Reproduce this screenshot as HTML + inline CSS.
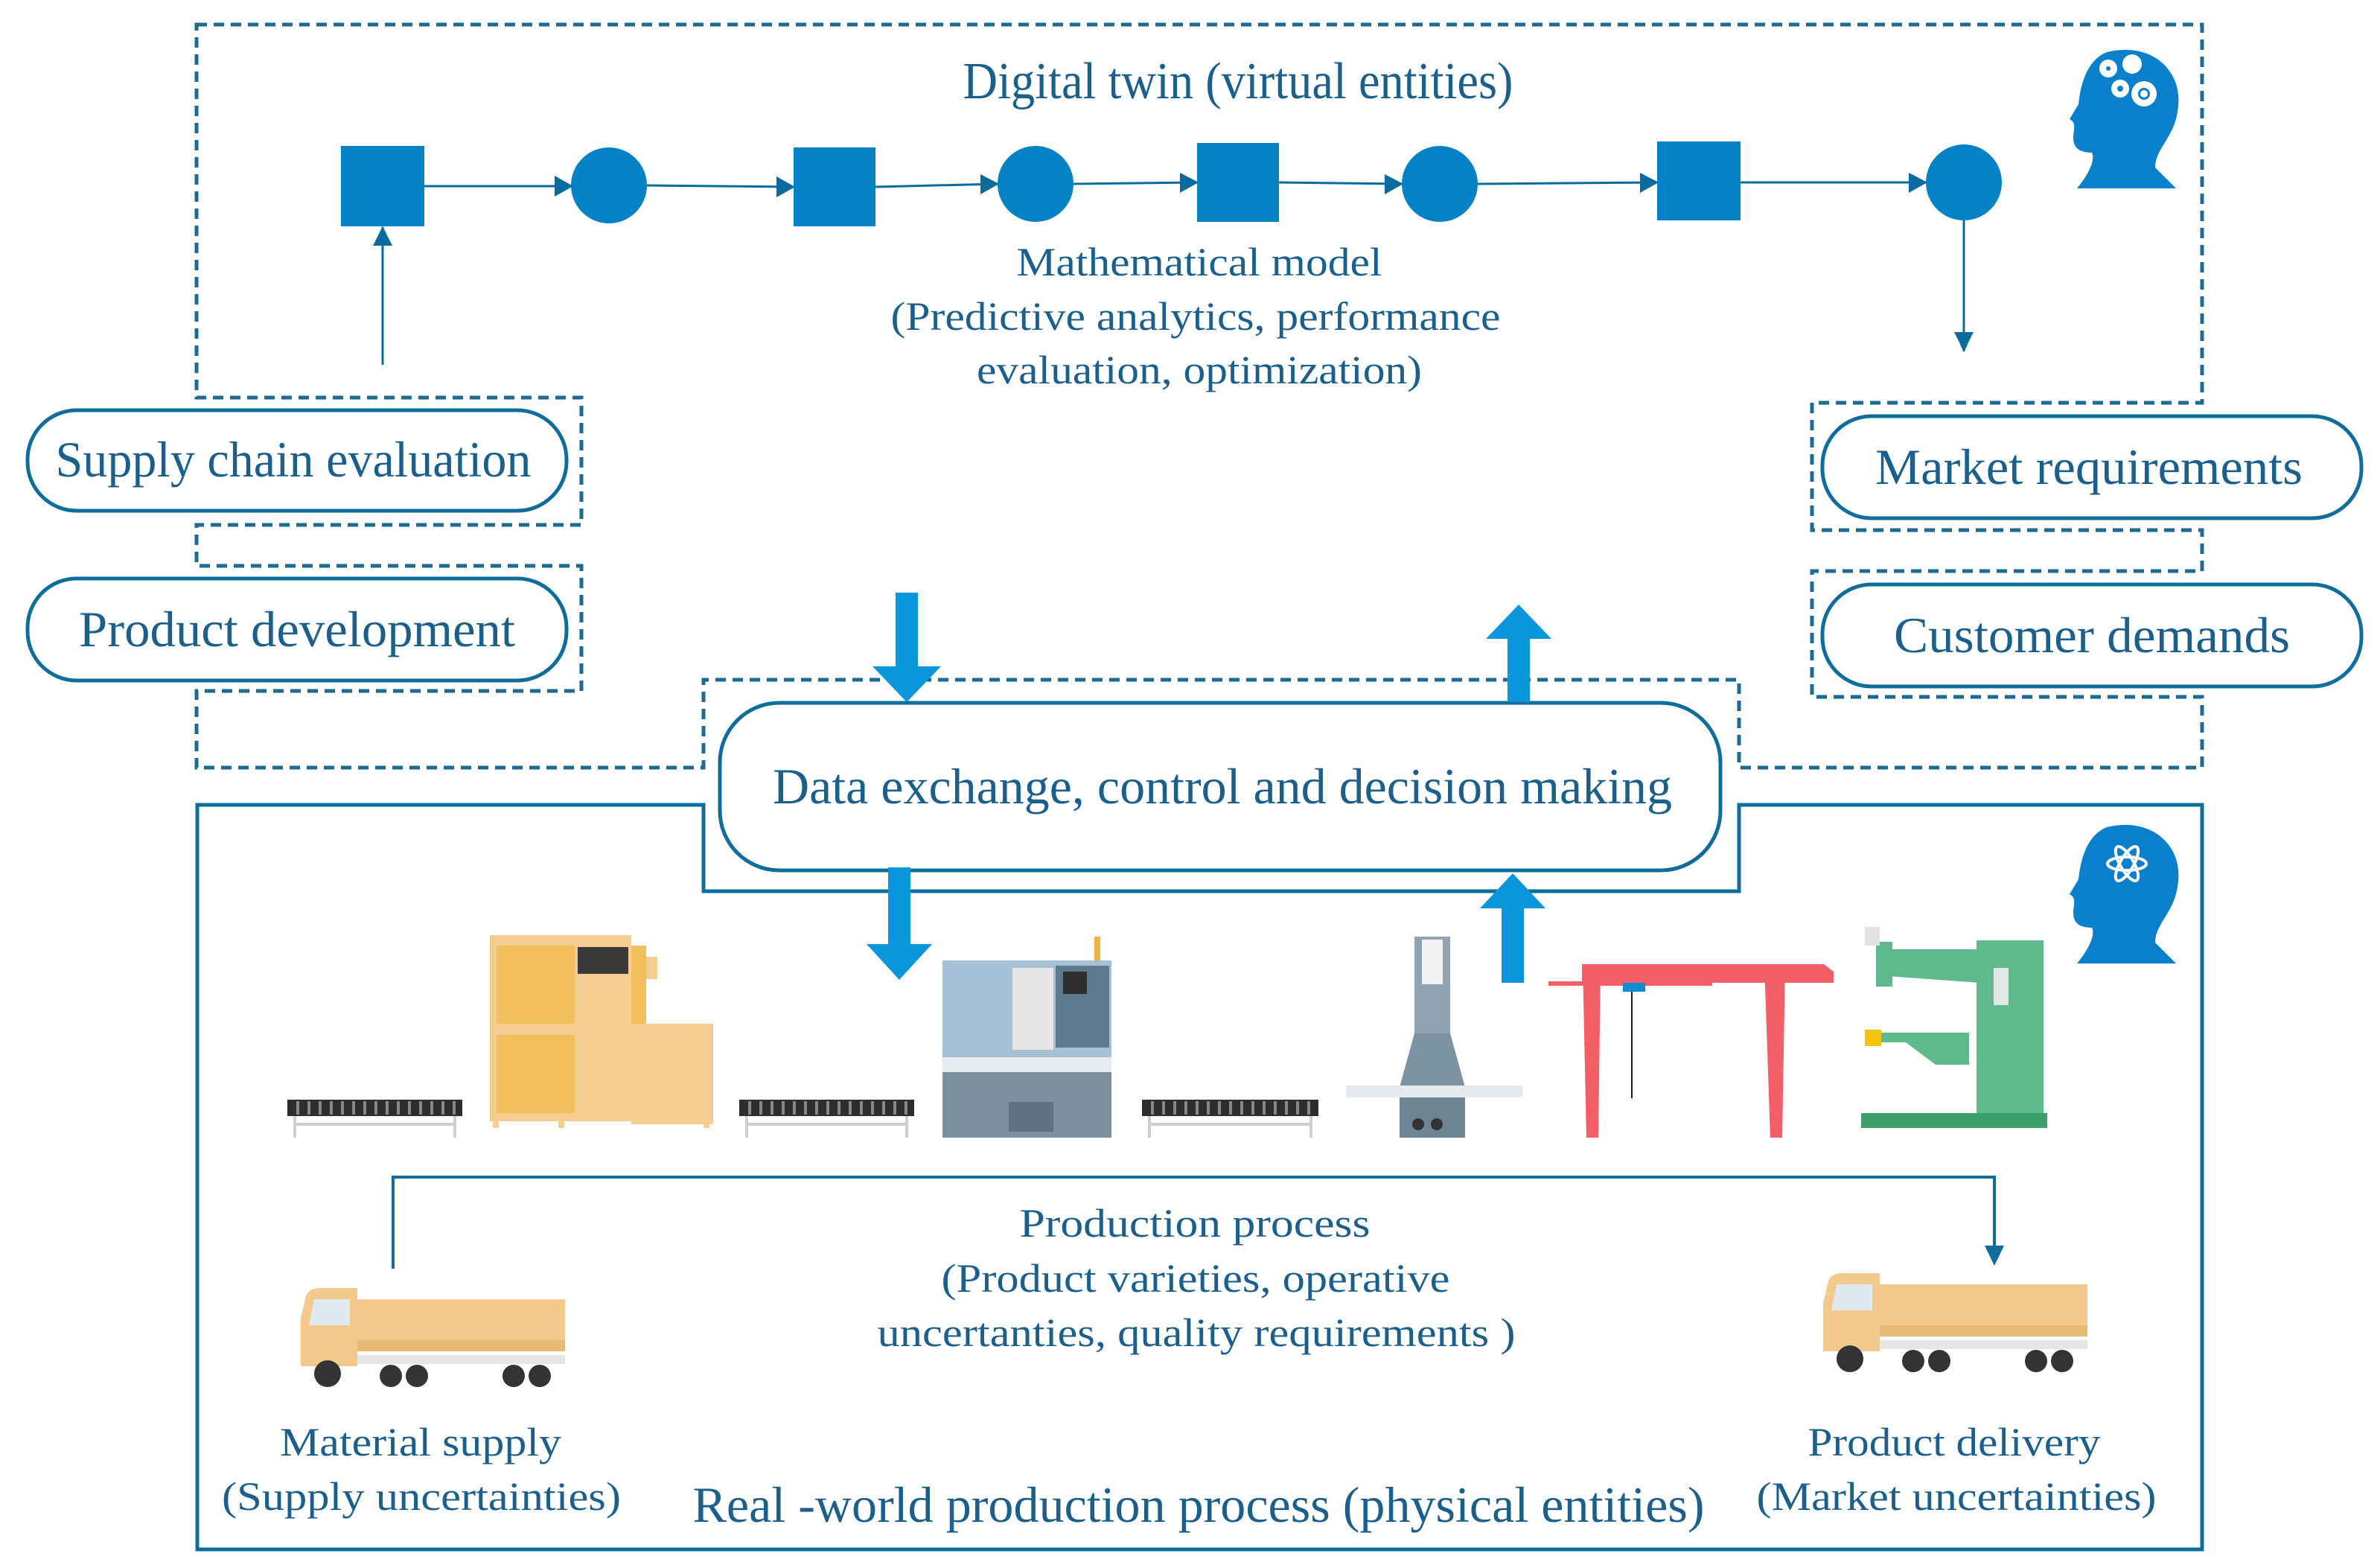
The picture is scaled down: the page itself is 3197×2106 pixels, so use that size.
<!DOCTYPE html>
<html><head><meta charset="utf-8"><style>
html,body{margin:0;padding:0;background:#fff;}
svg{display:block;}
text{font-family:"Liberation Serif",serif;fill:#1b5f8c;}
</style></head><body>
<svg width="3197" height="2106" viewBox="0 0 3197 2106" xmlns="http://www.w3.org/2000/svg">
<defs>
<marker id="ah" markerWidth="10" markerHeight="10" refX="9" refY="5" orient="auto" markerUnits="userSpaceOnUse" viewBox="0 0 10 10">
<path d="M0,0 L10,5 L0,10 z" fill="#0a6c9e"/></marker>
</defs>
<rect width="3197" height="2106" fill="#fff"/>
<!-- dashed outer digital twin outline -->
<path d="M264,33 H2958 V541 H2434 V712 H2958 V767 H2434 V936 H2958 V1031 H2336 V913 H945 V1031 H264 V928 H781 V760 H264 V705 H781 V534 H264 Z" fill="none" stroke="#1d6a92" stroke-width="5" stroke-dasharray="14,9"/>
<!-- solid bottom box -->
<path d="M265,1081 H945 V1197 H2336 V1081 H2958 V2081 H265 Z" fill="none" stroke="#0f6d9c" stroke-width="5"/>

<text x="1663" y="132" font-size="70" text-anchor="middle" textLength="739" lengthAdjust="spacingAndGlyphs">Digital twin (virtual entities)</text>

<!-- nodes -->
<g fill="#0383c6">
<rect x="458" y="196" width="112" height="108"/>
<ellipse cx="818" cy="249" rx="51" ry="51"/>
<rect x="1066" y="198" width="110" height="106"/>
<ellipse cx="1391" cy="247" rx="51" ry="51"/>
<rect x="1608" y="192" width="110" height="106"/>
<ellipse cx="1934" cy="247" rx="51" ry="51"/>
<rect x="2226" y="190" width="112" height="106"/>
<ellipse cx="2638" cy="245" rx="51" ry="51"/>
</g>
<g stroke="#0a6c9e" stroke-width="3" fill="none">
<line x1="570" y1="250" x2="767" y2="250" marker-end="url(#ah)" style="marker-end:url(#ah)"/>
<line x1="869" y1="249" x2="1066" y2="251" marker-end="url(#ah)"/>
<line x1="1176" y1="251" x2="1340" y2="247" marker-end="url(#ah)"/>
<line x1="1442" y1="247" x2="1608" y2="245" marker-end="url(#ah)"/>
<line x1="1718" y1="245" x2="1883" y2="247" marker-end="url(#ah)"/>
<line x1="1985" y1="247" x2="2226" y2="245" marker-end="url(#ah)"/>
<line x1="2338" y1="245" x2="2587" y2="245" marker-end="url(#ah)"/>
<line x1="514" y1="490" x2="514" y2="305" marker-end="url(#ah)"/>
<line x1="2638" y1="296" x2="2638" y2="472" marker-end="url(#ah)"/>
</g>
<g fill="#0a6c9e">
<path d="M745,236 L770,250 L745,264 Z"/><path d="M1043,237 L1068,251 L1043,265 Z"/>
<path d="M1317,234 L1342,247 L1317,261 Z"/><path d="M1585,232 L1610,245 L1585,259 Z"/>
<path d="M1860,234 L1885,247 L1860,261 Z"/><path d="M2203,232 L2228,245 L2203,259 Z"/>
<path d="M2564,232 L2589,245 L2564,259 Z"/>
<path d="M501,330 L514,304 L527,330 Z"/><path d="M2625,446 L2638,472 L2651,446 Z"/>
</g>

<text x="1611" y="370" font-size="54" text-anchor="middle" textLength="491" lengthAdjust="spacingAndGlyphs">Mathematical model</text>
<text x="1606" y="443" font-size="54" text-anchor="middle" textLength="819" lengthAdjust="spacingAndGlyphs">(Predictive analytics, performance</text>
<text x="1611" y="515" font-size="54" text-anchor="middle" textLength="598" lengthAdjust="spacingAndGlyphs">evaluation, optimization)</text>

<!-- pills -->
<g fill="#fff" stroke="#0f6d9c" stroke-width="5">
<rect x="37" y="551" width="724" height="135" rx="66"/>
<rect x="37" y="777" width="724" height="137" rx="66"/>
<rect x="2448" y="559" width="724" height="137" rx="66"/>
<rect x="2448" y="785" width="724" height="137" rx="66"/>
<rect x="967" y="944" width="1344" height="225" rx="80"/>
</g>
<text x="394" y="640" font-size="68" text-anchor="middle" textLength="639" lengthAdjust="spacingAndGlyphs">Supply chain evaluation</text>
<text x="399" y="868" font-size="68" text-anchor="middle" textLength="586" lengthAdjust="spacingAndGlyphs">Product development</text>
<text x="2806" y="650" font-size="68" text-anchor="middle" textLength="574" lengthAdjust="spacingAndGlyphs">Market requirements</text>
<text x="2810" y="876" font-size="68" text-anchor="middle" textLength="532" lengthAdjust="spacingAndGlyphs">Customer demands</text>
<text x="1642" y="1079" font-size="68" text-anchor="middle" textLength="1208" lengthAdjust="spacingAndGlyphs">Data exchange, control and decision making</text>

<!-- thick blue arrows -->
<g fill="#0a95dc">
<path d="M1203,796 H1233 V895 H1264 L1218,943 L1172,895 H1203 Z"/>
<path d="M2025,943 H2055 V858 H2084 L2040,812 L1996,858 H2025 Z"/>
<path d="M1193,1165 H1223 V1268 H1252 L1208,1316 L1164,1268 H1193 Z"/>
<path d="M2017,1320 H2047 V1220 H2076 L2032,1173 L1988,1220 H2017 Z"/>
</g>

<!-- heads -->
<g fill="#0a7fcc">
<path d="M2830,70 C2890,55 2935,95 2925,150 C2920,185 2895,200 2895,225 L2923,253 H2790 C2805,235 2815,215 2810,205 C2795,205 2785,200 2785,185 C2785,175 2790,165 2780,160 L2792,140 C2795,110 2805,80 2830,70 Z"/>
<path d="M2830,1111 C2890,1096 2935,1136 2925,1191 C2920,1226 2895,1241 2895,1266 L2923,1294 H2790 C2805,1276 2815,1256 2810,1246 C2795,1246 2785,1241 2785,1226 C2785,1216 2790,1206 2780,1201 L2792,1181 C2795,1151 2805,1121 2830,1111 Z"/>
</g>
<g fill="#fff">
<circle cx="2832" cy="92" r="12"/><circle cx="2864" cy="86" r="13"/><circle cx="2848" cy="119" r="12"/><circle cx="2880" cy="126" r="17"/>
</g>
<g fill="#0a7fcc"><circle cx="2832" cy="92" r="3"/><circle cx="2848" cy="119" r="4"/><circle cx="2880" cy="126" r="8"/></g>
<circle cx="2880" cy="126" r="5" fill="#fff"/>
<g stroke="#fff" stroke-width="4" fill="none">
<ellipse cx="2857" cy="1160" rx="26" ry="9"/><ellipse cx="2857" cy="1160" rx="26" ry="9" transform="rotate(60 2857 1160)"/><ellipse cx="2857" cy="1160" rx="26" ry="9" transform="rotate(-60 2857 1160)"/>
</g>

<!-- conveyors -->
<g>
<rect x="386" y="1477" width="235" height="22" fill="#2d2d2d"/>
<rect x="993" y="1477" width="235" height="22" fill="#2d2d2d"/>
<rect x="1534" y="1477" width="237" height="22" fill="#2d2d2d"/>
<g stroke="#cfcfcf" stroke-width="4" fill="none">
<path d="M396,1528 V1499 M611,1528 V1499 M396,1510 H611"/>
<path d="M1003,1528 V1499 M1218,1528 V1499 M1003,1510 H1218"/>
<path d="M1544,1528 V1499 M1761,1528 V1499 M1544,1510 H1761"/>
</g>
<g stroke="#888" stroke-width="4">
<path d="M400,1479 V1497 M415,1479 V1497 M430,1479 V1497 M445,1479 V1497 M460,1479 V1497 M475,1479 V1497 M490,1479 V1497 M505,1479 V1497 M520,1479 V1497 M535,1479 V1497 M550,1479 V1497 M565,1479 V1497 M580,1479 V1497 M595,1479 V1497 M610,1479 V1497"/>
<path d="M1007,1479 V1497 M1022,1479 V1497 M1037,1479 V1497 M1052,1479 V1497 M1067,1479 V1497 M1082,1479 V1497 M1097,1479 V1497 M1112,1479 V1497 M1127,1479 V1497 M1142,1479 V1497 M1157,1479 V1497 M1172,1479 V1497 M1187,1479 V1497 M1202,1479 V1497 M1217,1479 V1497"/>
<path d="M1548,1479 V1497 M1563,1479 V1497 M1578,1479 V1497 M1593,1479 V1497 M1608,1479 V1497 M1623,1479 V1497 M1638,1479 V1497 M1653,1479 V1497 M1668,1479 V1497 M1683,1479 V1497 M1698,1479 V1497 M1713,1479 V1497 M1728,1479 V1497 M1743,1479 V1497 M1758,1479 V1497"/>
</g>
</g>
<!-- beige machine -->
<rect x="658" y="1256" width="190" height="250" fill="#f5cc92"/>
<rect x="667" y="1270" width="105" height="105" fill="#f2bf5e"/>
<rect x="667" y="1390" width="105" height="105" fill="#f2bf5e"/>
<rect x="776" y="1272" width="68" height="36" fill="#3a3a3a"/>
<rect x="848" y="1270" width="20" height="140" fill="#f2bf5e"/>
<rect x="868" y="1285" width="15" height="30" fill="#f5cc92"/>
<rect x="848" y="1375" width="110" height="135" fill="#f5cc92"/>
<rect x="662" y="1500" width="8" height="15" fill="#f5cc92"/><rect x="750" y="1500" width="8" height="15" fill="#f5cc92"/><rect x="945" y="1500" width="8" height="15" fill="#f5cc92"/>
<!-- CNC -->
<rect x="1266" y="1290" width="227" height="130" fill="#a6c0d6"/>
<rect x="1360" y="1300" width="55" height="110" fill="#e6e6e6"/>
<rect x="1418" y="1297" width="72" height="110" fill="#5d7b8e"/>
<rect x="1428" y="1305" width="32" height="30" fill="#2e2e2e"/>
<rect x="1470" y="1258" width="8" height="32" fill="#f1b343"/>
<rect x="1266" y="1420" width="227" height="20" fill="#e8ecef"/>
<rect x="1266" y="1440" width="227" height="88" fill="#7b8f9c"/>
<rect x="1355" y="1480" width="60" height="40" fill="#5f7280"/>
<!-- press -->
<rect x="1900" y="1258" width="48" height="130" fill="#8fa3b1"/>
<rect x="1910" y="1262" width="28" height="60" fill="#f2f2f2"/>
<path d="M1880,1460 L1900,1388 H1948 L1968,1460 Z" fill="#7d93a2"/>
<rect x="1808" y="1458" width="237" height="16" fill="#e5e9ec"/>
<rect x="1880" y="1474" width="88" height="54" fill="#6e8594"/>
<circle cx="1905" cy="1510" r="8" fill="#333"/><circle cx="1930" cy="1510" r="8" fill="#333"/>
<!-- crane -->
<g fill="#f25f66">
<rect x="2080" y="1318" width="220" height="6"/>
<path d="M2125,1295 H2450 L2463,1305 V1320 H2125 Z"/>
<path d="M2126,1295 H2150 L2147,1528 H2131 Z"/>
<path d="M2370,1295 H2398 L2394,1528 H2378 Z"/>
</g>
<rect x="2180" y="1320" width="30" height="12" fill="#138bd1"/>
<line x1="2192" y1="1332" x2="2192" y2="1475" stroke="#222" stroke-width="2"/>
<!-- green -->
<g fill="#5fb98d">
<rect x="2520" y="1265" width="22" height="60"/>
<path d="M2520,1275 H2660 V1320 L2520,1310 Z"/>
<rect x="2655" y="1263" width="90" height="252"/>
<path d="M2523,1387 H2645 V1430 H2600 L2560,1400 H2523 Z"/>
<rect x="2500" y="1495" width="250" height="20" fill="#3da06b"/>
</g>
<rect x="2505" y="1383" width="22" height="22" fill="#f2c40f"/>
<rect x="2678" y="1300" width="20" height="50" fill="#e0e8e3"/>
<rect x="2505" y="1245" width="20" height="25" fill="#e2e2e2"/>

<!-- production flow -->
<path d="M528,1704 V1581 H2679 V1675" fill="none" stroke="#0f6d9c" stroke-width="4"/>
<path d="M2666,1673 L2679,1700 L2692,1673 Z" fill="#0f6d9c"/>
<text x="1605" y="1661" font-size="54" text-anchor="middle" textLength="471" lengthAdjust="spacingAndGlyphs">Production process</text>
<text x="1606" y="1735" font-size="54" text-anchor="middle" textLength="683" lengthAdjust="spacingAndGlyphs">(Product varieties, operative</text>
<text x="1607" y="1808" font-size="54" text-anchor="middle" textLength="857" lengthAdjust="spacingAndGlyphs">uncertanties, quality requirements )</text>

<!-- trucks -->
<g id="truck">
<rect x="480" y="1745" width="279" height="70" fill="#f3c98e"/>
<rect x="480" y="1800" width="279" height="15" fill="#e8b877"/>
<path d="M410,1745 Q412,1730 430,1730 H480 V1835 H404 V1770 Z" fill="#f3c98e"/>
<path d="M422,1745 H470 V1780 H415 Z" fill="#dfeaf0"/>
<rect x="480" y="1820" width="279" height="12" fill="#e6e6e6"/>
<circle cx="440" cy="1845" r="18" fill="#333"/>
<circle cx="525" cy="1848" r="15" fill="#333"/><circle cx="560" cy="1848" r="15" fill="#333"/>
<circle cx="690" cy="1848" r="15" fill="#333"/><circle cx="725" cy="1848" r="15" fill="#333"/>
</g>
<use href="#truck" transform="translate(2045,-20)"/>

<text x="565" y="1955" font-size="54" text-anchor="middle" textLength="378" lengthAdjust="spacingAndGlyphs">Material supply</text>
<text x="566" y="2028" font-size="54" text-anchor="middle" textLength="536" lengthAdjust="spacingAndGlyphs">(Supply uncertainties)</text>
<text x="2625" y="1955" font-size="54" text-anchor="middle" textLength="393" lengthAdjust="spacingAndGlyphs">Product delivery</text>
<text x="2628" y="2028" font-size="54" text-anchor="middle" textLength="537" lengthAdjust="spacingAndGlyphs">(Market uncertainties)</text>
<text x="1610" y="2044" font-size="68" text-anchor="middle" textLength="1359" lengthAdjust="spacingAndGlyphs">Real -world production process (physical entities)</text>
</svg>
</body></html>
